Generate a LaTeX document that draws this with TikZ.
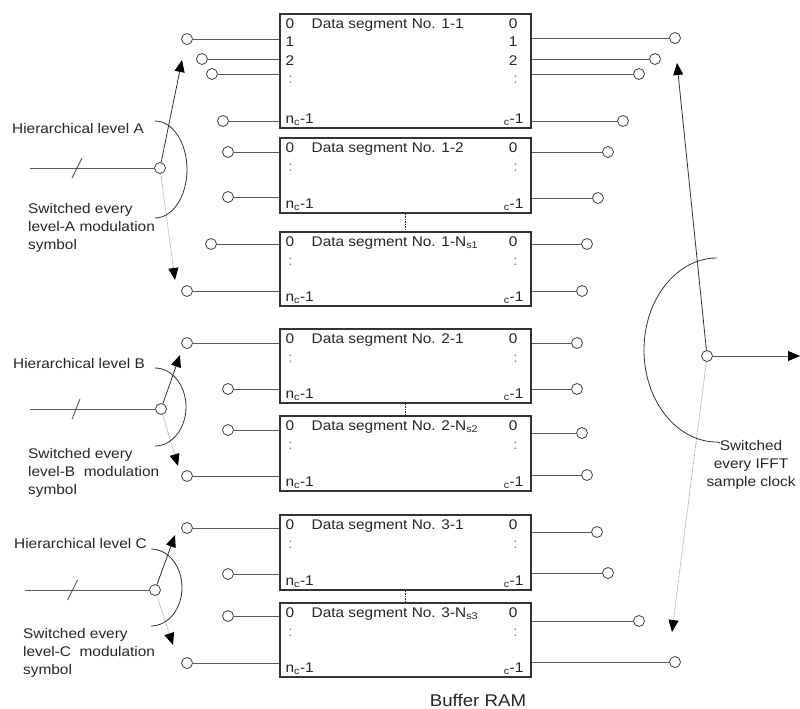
\documentclass[tikz,border=0pt]{standalone}
\usepackage{fontspec}
\setmainfont{Liberation Sans}[FakeStretch=1.1]
\usetikzlibrary{arrows.meta,calc}

\begin{document}
\begin{tikzpicture}[x=1pt,y=-1pt,
  every node/.style={inner sep=0pt,font=\fontsize{14}{18}\selectfont,text=black!85},
  seg/.style={draw=black!80,line width=1.1pt,minimum width=251pt},
  port/.style={circle,draw=black!75,fill=white,line width=0.8pt,minimum size=11pt},
  wire/.style={black!65,line width=0.9pt},
  hop/.style={black!80,line width=0.8pt,-{Triangle[length=12pt,width=10pt,color=black]}},
  hopdot/.style={black!40,line width=0.8pt,dash pattern=on 1pt off 1pt,-{Triangle[length=12pt,width=10pt,color=black]}},
  sweep/.style={black!80,line width=0.8pt},
  link/.style={black!85,line width=1.3pt,dash pattern=on 1.5pt off 1pt},
  dim/.style={text=black!50}]
\useasboundingbox (0,0) rectangle (800,709);

% buffer RAM segments
\node[seg,minimum height=114pt] (b11) at (405.5,71) {};
\node[seg,minimum height=75pt] (b12) at (405.5,175.5) {};
\node[seg,minimum height=74pt] (b1n) at (405.5,269) {};
\node[seg,minimum height=74pt] (b21) at (405.5,366) {};
\node[seg,minimum height=75pt] (b2n) at (405.5,453.5) {};
\node[seg,minimum height=75pt] (b31) at (405.5,552.5) {};
\node[seg,minimum height=74pt] (b3n) at (405.5,640) {};
\draw[link] (b12) -- (b1n);
\draw[link] (b21) -- (b2n);
\draw[link] (b31) -- (b3n);
\node[font=\fontsize{17}{20}\selectfont] (ram) at (478,700) {Buffer RAM};

% segment titles
\node[anchor=base west] at ([shift={(32pt,-15pt)}]b11.north west) {Data segment No. 1-1};
\node[anchor=base west] at ([shift={(32pt,-15pt)}]b12.north west) {Data segment No. 1-2};
\node[anchor=base west] at ([shift={(32pt,-15pt)}]b1n.north west) {Data segment No. 1-N\textsubscript{s1}};
\node[anchor=base west] at ([shift={(32pt,-15pt)}]b21.north west) {Data segment No. 2-1};
\node[anchor=base west] at ([shift={(32pt,-15pt)}]b2n.north west) {Data segment No. 2-N\textsubscript{s2}};
\node[anchor=base west] at ([shift={(32pt,-15pt)}]b31.north west) {Data segment No. 3-1};
\node[anchor=base west] at ([shift={(32pt,-15pt)}]b3n.north west) {Data segment No. 3-N\textsubscript{s3}};

% port numbers
\foreach \b in {b11,b12,b1n,b21,b2n,b31,b3n}{
  \node[anchor=base west] at ([shift={(6pt,-15pt)}]\b.north west) {0};
  \node[anchor=base east] at ([shift={(-14pt,-15pt)}]\b.north east) {0};
  \node[anchor=base west] at ([shift={(6pt,5pt)}]\b.south west) {n\textsubscript{c}-1};
  \node[anchor=base east] at ([shift={(-8pt,5pt)}]\b.south east) {\textsubscript{c}-1};
}
\foreach \b in {b12,b1n,b21,b2n,b31,b3n}{
  \node[dim,anchor=base] at ([shift={(11pt,-34pt)}]\b.north west) {:};
  \node[dim,anchor=base] at ([shift={(-16pt,-34pt)}]\b.north east) {:};
}
\node[anchor=base west] at ([shift={(6pt,-33pt)}]b11.north west) {1};
\node[anchor=base west] at ([shift={(6pt,-52pt)}]b11.north west) {2};
\node[dim,anchor=base] at ([shift={(11pt,-70pt)}]b11.north west) {:};
\node[anchor=base east] at ([shift={(-14pt,-33pt)}]b11.north east) {1};
\node[anchor=base east] at ([shift={(-14pt,-52pt)}]b11.north east) {2};
\node[dim,anchor=base] at ([shift={(-16pt,-70pt)}]b11.north east) {:};

% input ports
\node[port] (pA1) at (187,39) {};
\node[port] (pA2) at (202,59) {};
\node[port] (pA3) at (212,74) {};
\node[port] (pA4) at (223,121) {};
\node[port] (pA5) at (228,152) {};
\node[port] (pA6) at (228,197) {};
\node[port] (pA7) at (211,244) {};
\node[port] (pA8) at (187,291) {};
\node[port] (pB1) at (187,343) {};
\node[port] (pB2) at (228,389) {};
\node[port] (pB3) at (228,430) {};
\node[port] (pB4) at (187,476) {};
\node[port] (pC1) at (187,528) {};
\node[port] (pC2) at (228,574) {};
\node[port] (pC3) at (228,616) {};
\node[port] (pC4) at (187,663) {};
\foreach \p/\b in {pA1/b11,pA2/b11,pA3/b11,pA4/b11,pA5/b12,pA6/b12,pA7/b1n,pA8/b1n,
                   pB1/b21,pB2/b21,pB3/b2n,pB4/b2n,pC1/b31,pC2/b31,pC3/b3n,pC4/b3n}
  \draw[wire] (\p) -- (\p -| \b.west);

% output ports
\node[port] (rA1) at (675,38) {};
\node[port] (rA2) at (655,59) {};
\node[port] (rA3) at (639,74) {};
\node[port] (rA4) at (623,121) {};
\node[port] (rA5) at (608,152) {};
\node[port] (rA6) at (598,198) {};
\node[port] (rA7) at (587,244) {};
\node[port] (rA8) at (582,291) {};
\node[port] (rB1) at (577,343) {};
\node[port] (rB2) at (577,389) {};
\node[port] (rB3) at (582,433) {};
\node[port] (rB4) at (587,475) {};
\node[port] (rC1) at (597,532) {};
\node[port] (rC2) at (608,573) {};
\node[port] (rC3) at (639,621) {};
\node[port] (rC4) at (675,662) {};
\foreach \p/\b in {rA1/b11,rA2/b11,rA3/b11,rA4/b11,rA5/b12,rA6/b12,rA7/b1n,rA8/b1n,
                   rB1/b21,rB2/b21,rB3/b2n,rB4/b2n,rC1/b31,rC2/b31,rC3/b3n,rC4/b3n}
  \draw[wire] (\p -| \b.east) -- (\p);

% level switches
\node[port] (swA) at (160,168) {};
\node[port] (swB) at (161,409) {};
\node[port] (swC) at (155,590) {};
\coordinate (inA) at (30,168);
\coordinate (inB) at (30,409);
\coordinate (inC) at (25,590);
\coordinate (slA) at (77,168);
\coordinate (slB) at (76,409);
\coordinate (slC) at (72.5,590);
\coordinate (upA) at (182,60);
\coordinate (dnA) at (175,280);
\coordinate (upB) at (180,355);
\coordinate (dnB) at (178,466);
\coordinate (upC) at (175,535);
\coordinate (dnC) at (173,645);
\draw[wire] (inA) -- (swA);
\draw[wire] (inB) -- (swB);
\draw[wire] (inC) -- (swC);
\draw[wire] ([shift={(-5pt,-10pt)}]slA) -- ([shift={(5pt,10pt)}]slA);
\draw[wire] ([shift={(-4pt,-10pt)}]slB) -- ([shift={(4pt,10pt)}]slB);
\draw[wire] ([shift={(-5pt,-10pt)}]slC) -- ([shift={(5pt,10pt)}]slC);
\draw[hop] (swA) -- (upA);
\draw[hopdot] (swA) -- (dnA);
\draw[hop] (swB) -- (upB);
\draw[hopdot] (swB) -- (dnB);
\draw[hop] (swC) -- (upC);
\draw[hopdot] (swC) -- (dnC);
\draw[sweep] (155,121) arc[start angle=90,end angle=-90,x radius=32pt,y radius=48.5pt];
\draw[sweep] (155,368) arc[start angle=90,end angle=-90,x radius=31pt,y radius=39pt];
\draw[sweep] (151,549) arc[start angle=90,end angle=-90,x radius=31pt,y radius=38.5pt];
\node[anchor=base west] (lvA) at (12,133) {Hierarchical level A};
\node[anchor=base west] (lvB) at (13,368) {Hierarchical level B};
\node[anchor=base west] (lvC) at (14,548) {Hierarchical level C};
\node[anchor=north west,align=left] (tA) at (28,203) {Switched every\\level-A modulation\\symbol};
\node[anchor=north west,align=left] (tB) at (28,448) {Switched every\\level-B\ \ modulation\\symbol};
\node[anchor=north west,align=left] (tC) at (23,628) {Switched every\\level-C\ \ modulation\\symbol};

% IFFT switch
\node[port] (swR) at (707,356) {};
\coordinate (upR) at (677,63);
\coordinate (dnR) at (672,632);
\coordinate (outR) at (800,356);
\draw[hop] (swR) -- (upR);
\draw[hopdot] (swR) -- (dnR);
\draw[wire,-{Triangle[length=12pt,width=10pt,color=black]}] (swR) -- (outR);
\draw[sweep] (717,258) arc[start angle=90,end angle=270,x radius=73pt,y radius=92pt] -- (720,443);
\node[anchor=north,align=center] (tR) at (751,440) {Switched\\every IFFT\\sample clock};
\end{tikzpicture}
\end{document}
